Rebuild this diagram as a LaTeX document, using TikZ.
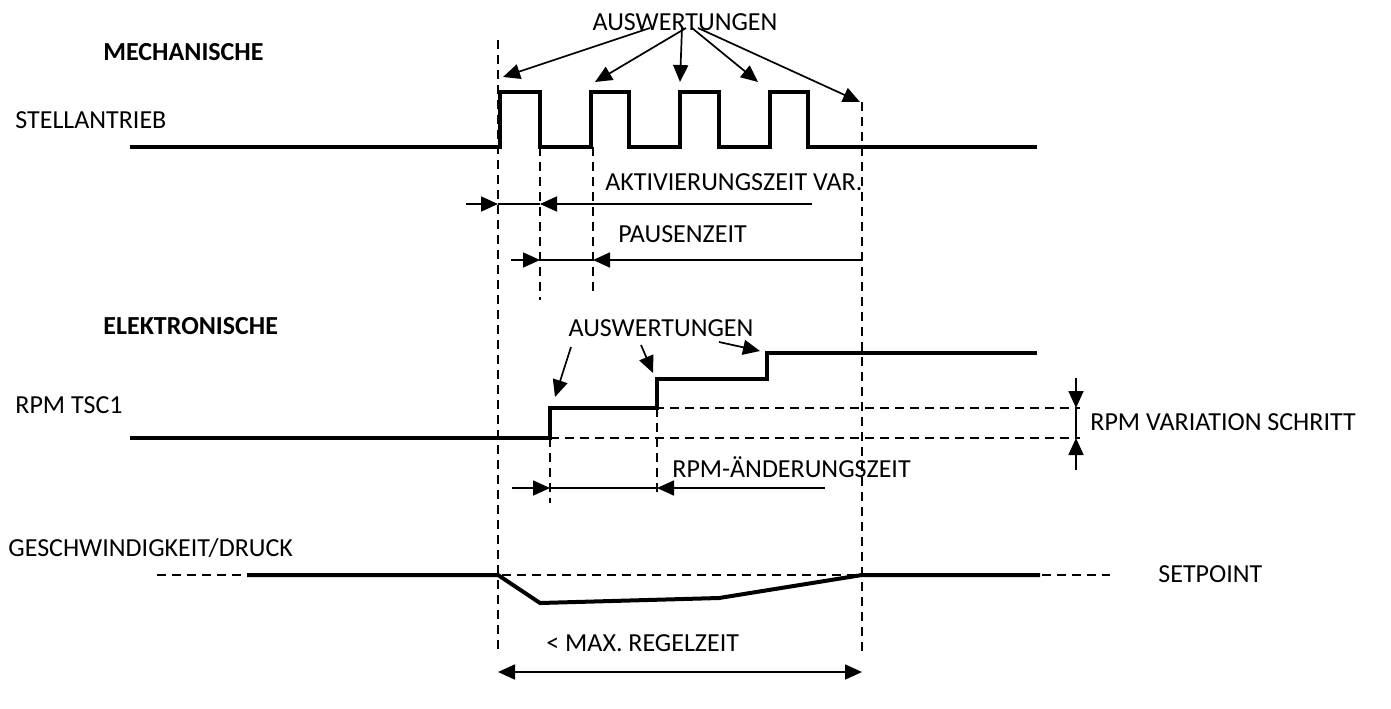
\documentclass[tikz,border=0pt]{standalone}
\usepackage{fontspec}
\setmainfont{Carlito}
\usetikzlibrary{arrows.meta}
\begin{document}
\begin{tikzpicture}[x=0.5pt,y=-0.5pt,
  sig/.style={line width=2pt, line join=miter},
  conn/.style={line width=0.85pt},
  dsh/.style={line width=0.6pt, dash pattern=on 4.5pt off 3pt},
  tip/.style={-{Triangle[length=8.5pt,width=7.5pt]}},
  lbl/.style={font=\fontsize{13}{15}\selectfont, inner sep=0pt, anchor=west},
  ]
\useasboundingbox (0,0) rectangle (1391,708);

% ---------- labels ----------
\node[lbl] (mech) at (103,52) {\bfseries MECHANISCHE};
\node[lbl] (stell) at (15,120) {STELLANTRIEB};
\node[lbl,anchor=center] (ausw1) at (685,22) {AUSWERTUNGEN};
\node[lbl] (aktiv) at (605,182) {AKTIVIERUNGSZEIT VAR.};
\node[lbl] (pause) at (618,234) {PAUSENZEIT};
\node[lbl] (elek) at (103,326) {\bfseries ELEKTRONISCHE};
\node[lbl] (rpmtsc) at (15,405) {RPM TSC1};
\node[lbl,anchor=center] (ausw2) at (661,328) {AUSWERTUNGEN};
\node[lbl] (rpmvar) at (1090,422) {RPM VARIATION SCHRITT};
\node[lbl] (rpmaend) at (672,467) {RPM-ÄNDERUNGSZEIT};
\node[lbl] (gesch) at (8,548) {GESCHWINDIGKEIT/DRUCK};
\node[lbl] (setp) at (1158,574) {SETPOINT};
\node[lbl] (maxreg) at (546,643) {< MAX. REGELZEIT};

% ---------- dashed guide lines ----------
\draw[dsh] (498,40) -- (498,655);
\draw[dsh] (540,147) -- (540,300);
\draw[dsh] (593,147) -- (593,295);
\draw[dsh] (862,102) -- (862,655);
\draw[dsh] (550,438) -- (550,503);
\draw[dsh] (657,408) -- (657,495);
\draw[dsh] (550,408) -- (1080,408);
\draw[dsh] (550,438) -- (1080,438);
\draw[dsh] (157,575) -- (1110,575);

% ---------- signals ----------
\draw[sig] (130,147) -- (500,147) |- (540,92) |- (591,147) |- (629,92) |- (680,147)
  |- (719,92) |- (770,147) |- (808,92) |- (1037,147);
\draw[sig] (130,438) -- (550,438) |- (657,408) |- (767,379) |- (1037,353);
\draw[sig] (767,379) -- (767,353);
\draw[sig] (657,408) -- (657,379);
\draw[sig] (247,575) -- (498,575) -- (540,603) -- (719,598) -- (862,575) -- (1040,575);

% ---------- top evaluation arrows ----------
\coordinate (s1) at (650,28);
\coordinate (s2) at (686,28);
\coordinate (s3) at (682,28);
\coordinate (s4) at (692,28);
\coordinate (s5) at (698,28);
\coordinate (e1) at (503,77);
\coordinate (e2) at (595,82);
\coordinate (e3) at (680,82);
\coordinate (e4) at (758,82);
\coordinate (e5) at (860,102);
\foreach \i in {1,...,5} \draw[conn,tip] (s\i) -- (e\i);

% ---------- activation time ----------
\coordinate (a0) at (466,204);
\coordinate (a1) at (498,204);
\coordinate (a2) at (540,204);
\coordinate (a3) at (812,204);
\draw[conn,tip] (a0) -- (a1);
\draw[conn] (a1) -- (a2);
\draw[conn,tip] (a3) -- (a2);

% ---------- pause time ----------
\coordinate (p0) at (511,260);
\coordinate (p1) at (540,260);
\coordinate (p2) at (593,260);
\coordinate (p3) at (862,260);
\draw[conn,tip] (p0) -- (p1);
\draw[conn] (p1) -- (p2);
\draw[conn,tip] (p3) -- (p2);

% ---------- middle evaluation arrows ----------
\coordinate (m1s) at (571,347);
\coordinate (m1e) at (555,397);
\coordinate (m2s) at (641,345);
\coordinate (m2e) at (653,373);
\coordinate (m3s) at (719,342);
\coordinate (m3e) at (760,351);
\draw[conn,tip] (m1s) -- (m1e);
\draw[conn,tip] (m2s) -- (m2e);
\draw[conn,tip] (m3s) -- (m3e);

% ---------- RPM variation step ----------
\coordinate (v0) at (1076,378);
\coordinate (v1) at (1076,408);
\coordinate (v2) at (1076,438);
\coordinate (v3) at (1076,470);
\draw[conn,tip] (v0) -- (v1);
\draw[conn] (v1) -- (v2);
\draw[conn,tip] (v3) -- (v2);

% ---------- RPM change time ----------
\coordinate (r0) at (512,488);
\coordinate (r1) at (550,488);
\coordinate (r2) at (657,488);
\coordinate (r3) at (825,488);
\draw[conn,tip] (r0) -- (r1);
\draw[conn] (r1) -- (r2);
\draw[conn,tip] (r3) -- (r2);

% ---------- max control time ----------
\coordinate (b1) at (498,672);
\coordinate (b2) at (862,672);
\draw[conn,{Triangle[length=8.5pt,width=7.5pt]}-{Triangle[length=8.5pt,width=7.5pt]}] (b1) -- (b2);
\end{tikzpicture}
\end{document}
